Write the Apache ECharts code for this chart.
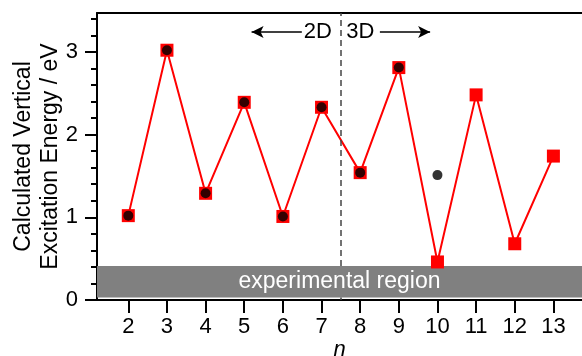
<!DOCTYPE html>
<html>
<head>
<meta charset="utf-8">
<script src="https://cdn.jsdelivr.net/npm/echarts@6/dist/echarts.min.js"></script>
<style>
html,body{margin:0;padding:0;background:#fff;}
#chart{width:582px;height:356px;}
</style>
</head>
<body>
<div id="chart"></div>
<script>
// ---- data ----
const nValues = [2, 3, 4, 5, 6, 7, 8, 9, 10, 11, 12, 13];
const squareValues = [1.02, 3.02, 1.29, 2.39, 1.01, 2.33, 1.54, 2.81, 0.46, 2.48, 0.68, 1.74];
const dotValues = [1.02, 3.02, 1.29, 2.39, 1.01, 2.33, 1.54, 2.81, 1.51, null, null, null];
const yMajorTicks = [0, 1, 2, 3];
const yMinorTicks = [0.2, 0.4, 0.6, 0.8, 1.2, 1.4, 1.6, 1.8, 2.2, 2.4, 2.6, 2.8, 3.2, 3.4];
const xRange = [1.19, 13.74];
const yRange = [0, 3.47];
const bandRange = [0.03, 0.41];
const bandLabel = 'experimental region';
const dividerX = 7.5;
const arrowY = 3.24;
const leftArrow = [6.49, 5.19];
const rightArrow = [8.51, 9.81];
const label2D = '2D';
const label3D = '3D';
const label2DX = 7.27;
const label3DX = 7.64;
const yTitle = 'Calculated Vertical\nExcitation Energy / eV';
const xTitle = 'n';

const font = 'Arial, "Liberation Sans", Helvetica, sans-serif';
const squareData = nValues.map((n, i) => [n, squareValues[i]]);
const dotData = nValues.map((n, i) => [n, dotValues[i]]).filter(d => d[1] !== null);

const chart = echarts.init(document.getElementById('chart'), null, {renderer: 'canvas'});
const axisLineStyle = {color: '#000', width: 2};

chart.setOption({
  animation: false,
  backgroundColor: '#fff',
  textStyle: {fontFamily: font},
  grid: {left: 97, right: 0, top: 13, bottom: 56, containLabel: false, outerBoundsMode: 'none'},
  xAxis: [{
    type: 'value', min: xRange[0], max: xRange[1], position: 'bottom',
    axisLine: {show: true, onZero: false, lineStyle: axisLineStyle},
    axisTick: {show: true, customValues: nValues, length: 13, lineStyle: axisLineStyle},
    axisLabel: {show: true, customValues: nValues, fontSize: 22, color: '#000', margin: 16, fontFamily: font},
    splitLine: {show: false},
    name: xTitle, nameLocation: 'middle', nameGap: 39, nameMoveOverlap: false,
    nameTextStyle: {fontSize: 22, fontStyle: 'italic', color: '#000', fontFamily: font}
  }, {
    type: 'value', min: xRange[0], max: xRange[1], position: 'top',
    axisLine: {show: true, onZero: false, lineStyle: axisLineStyle},
    axisTick: {show: false}, axisLabel: {show: false}, splitLine: {show: false}
  }],
  yAxis: [{
    type: 'value', min: yRange[0], max: yRange[1], position: 'left',
    axisLine: {show: true, onZero: false, lineStyle: axisLineStyle},
    axisTick: {show: true, customValues: yMajorTicks, length: 12, lineStyle: axisLineStyle},
    axisLabel: {show: true, customValues: yMajorTicks, fontSize: 22, color: '#000', margin: 19, fontFamily: font},
    splitLine: {show: false},
    name: yTitle, nameLocation: 'middle', nameGap: 33, nameMoveOverlap: false,
    nameTextStyle: {fontSize: 23, lineHeight: 27, color: '#000', fontFamily: font, align: 'center'}
  }, {
    type: 'value', min: yRange[0], max: yRange[1], position: 'left', offset: 0,
    axisLine: {show: false},
    axisTick: {show: true, customValues: yMinorTicks, length: 6, lineStyle: axisLineStyle},
    axisLabel: {show: false}, splitLine: {show: false}
  }],
  series: [{
    type: 'line', data: [], z: 1, silent: true,
    markLine: {
      silent: true, animation: false,
      symbol: ['none', 'none'],
      label: {show: false},
      lineStyle: {color: '#444', width: 1.5, type: [6, 4]},
      data: [
        [{coord: [dividerX, bandRange[1]]}, {coord: [dividerX, yRange[1]]}],
        [{coord: [dividerX, yRange[0]]}, {coord: [dividerX, bandRange[0]]}]
      ]
    }
  }, {
    type: 'line', data: [], z: 3, silent: true,
    markArea: {
      silent: true,
      itemStyle: {color: '#808080'},
      label: {show: true, position: 'inside', formatter: bandLabel, color: '#fff', fontSize: 23, fontFamily: font},
      data: [[{coord: [xRange[0], bandRange[0]]}, {coord: [xRange[1], bandRange[1]]}]]
    }
  }, {
    type: 'line', data: [], z: 3, silent: true,
    markLine: {
      silent: true, animation: false,
      symbol: ['none', 'arrow'], symbolSize: [9, 12],
      label: {show: false},
      lineStyle: {color: '#000', width: 1.5, type: 'solid'},
      itemStyle: {color: '#000'},
      data: [
        [{coord: [leftArrow[0], arrowY]}, {coord: [leftArrow[1], arrowY]}],
        [{coord: [rightArrow[0], arrowY]}, {coord: [rightArrow[1], arrowY]}]
      ]
    }
  }, {
    type: 'line', data: squareData, z: 4,
    symbol: 'rect', symbolSize: 13, showAllSymbol: true,
    lineStyle: {color: '#ff0000', width: 2},
    itemStyle: {color: '#ff0000', borderWidth: 0}
  }, {
    type: 'scatter', data: dotData, z: 5,
    symbol: 'circle', symbolSize: 10,
    itemStyle: {color: '#000'}
  }]
});

const p2 = chart.convertToPixel({xAxisIndex: 0, yAxisIndex: 0}, [label2DX, arrowY]);
const p3 = chart.convertToPixel({xAxisIndex: 0, yAxisIndex: 0}, [label3DX, arrowY]);
chart.setOption({
  graphic: [{
    type: 'text', x: p2[0], y: p2[1], z: 10,
    style: {text: label2D, font: '22px ' + font, fill: '#000', align: 'right', verticalAlign: 'middle'}
  }, {
    type: 'text', x: p3[0], y: p3[1], z: 10,
    style: {text: label3D, font: '22px ' + font, fill: '#000', align: 'left', verticalAlign: 'middle'}
  }]
});
</script>
</body>
</html>
